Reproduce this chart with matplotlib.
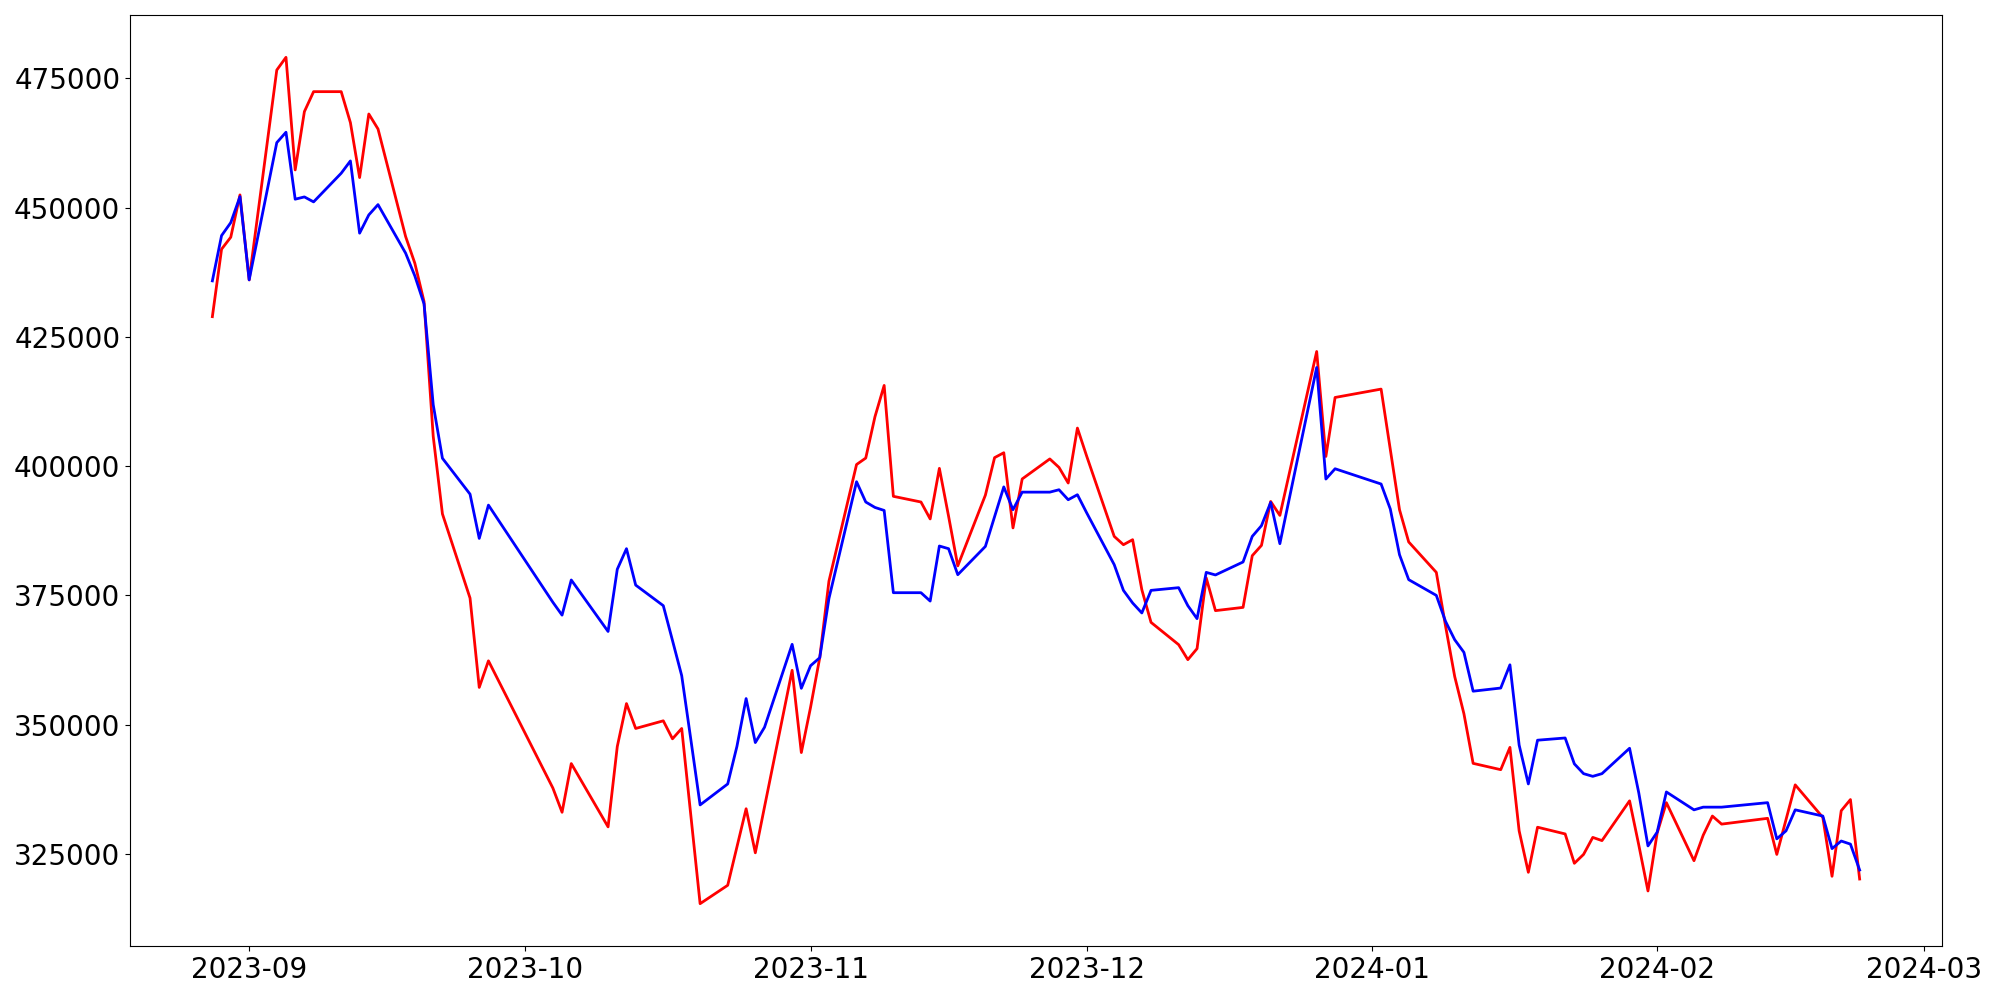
import matplotlib
matplotlib.use("Agg")
import matplotlib.pyplot as plt
import matplotlib.dates as mdates
from matplotlib.ticker import FuncFormatter
import pandas as pd

dates = [
    "2023-08-28", "2023-08-29", "2023-08-30", "2023-08-31", "2023-09-01",
    "2023-09-04", "2023-09-05", "2023-09-06", "2023-09-07", "2023-09-08",
    "2023-09-11", "2023-09-12", "2023-09-13", "2023-09-14", "2023-09-15",
    "2023-09-18", "2023-09-19", "2023-09-20", "2023-09-21", "2023-09-22",
    "2023-09-25", "2023-09-26", "2023-09-27",
    "2023-10-04", "2023-10-05", "2023-10-06",
    "2023-10-10", "2023-10-11", "2023-10-12", "2023-10-13",
    "2023-10-16", "2023-10-17", "2023-10-18", "2023-10-19", "2023-10-20",
    "2023-10-23", "2023-10-24", "2023-10-25", "2023-10-26", "2023-10-27",
    "2023-10-30", "2023-10-31", "2023-11-01", "2023-11-02", "2023-11-03",
    "2023-11-06", "2023-11-07", "2023-11-08", "2023-11-09", "2023-11-10",
    "2023-11-13", "2023-11-14", "2023-11-15", "2023-11-16", "2023-11-17",
    "2023-11-20", "2023-11-21", "2023-11-22", "2023-11-23", "2023-11-24",
    "2023-11-27", "2023-11-28", "2023-11-29", "2023-11-30", "2023-12-01",
    "2023-12-04", "2023-12-05", "2023-12-06", "2023-12-07", "2023-12-08",
    "2023-12-11", "2023-12-12", "2023-12-13", "2023-12-14", "2023-12-15",
    "2023-12-18", "2023-12-19", "2023-12-20", "2023-12-21", "2023-12-22",
    "2023-12-26", "2023-12-27", "2023-12-28",
    "2024-01-02", "2024-01-03", "2024-01-04", "2024-01-05",
    "2024-01-08", "2024-01-09", "2024-01-10", "2024-01-11", "2024-01-12",
    "2024-01-15", "2024-01-16", "2024-01-17", "2024-01-18", "2024-01-19",
    "2024-01-22", "2024-01-23", "2024-01-24", "2024-01-25", "2024-01-26",
    "2024-01-29", "2024-01-30", "2024-01-31", "2024-02-01", "2024-02-02",
    "2024-02-05", "2024-02-06", "2024-02-07", "2024-02-08",
    "2024-02-13", "2024-02-14", "2024-02-15", "2024-02-16",
    "2024-02-19", "2024-02-20", "2024-02-21", "2024-02-22", "2024-02-23",
]

actual = [
    428900, 441950, 444270, 452450, 436000,
    476600, 479060, 457280, 468560, 472420,
    472420, 466430, 455800, 468100, 465200,
    444400, 439240, 431830, 405730, 390750,
    374470, 357190, 362330,
    337730, 333040, 342460,
    330220, 345750, 354060, 349250,
    350730, 347250, 349250, 332310, 315360,
    318920, 326320, 333720, 325200, 334090,
    360500, 344590, 353320, 362930, 377740,
    400300, 401550, 409540, 415600, 394150,
    393050, 389780, 399560, 390300, 380700,
    394380, 401630, 402580, 388040, 397510,
    401380, 399740, 396720, 407350, 401960,
    386400, 384790, 385760, 376090, 369770,
    365460, 362560, 364690, 378360, 372040,
    372670, 382670, 384660, 393160, 390460,
    422160, 401860, 413270,
    414890, 403210, 391560, 385320,
    379440, 369080, 359280, 352090, 342500,
    341280, 345590, 329450, 321430, 330150,
    328850, 323170, 324890, 328180, 327560,
    335250, 326710, 317820, 329030, 334900,
    323670, 328600, 332310, 330750,
    331870, 324890, 331620, 338340,
    332040, 320660, 333340, 335500, 320130,
]

predicted = [
    435820, 444580, 447090, 452120, 436020,
    462560, 464570, 451620, 452060, 451100,
    456640, 459020, 445050, 448580, 450570,
    441180, 436790, 431380, 411860, 401510,
    394570, 386010, 392450,
    373660, 371170, 377970,
    368010, 380040, 384020, 376980,
    373000, 366260, 359470, 347020, 334460,
    338520, 345770, 355030, 346520, 349480,
    365520, 357020, 361380, 362930, 374390,
    396970, 393050, 392000, 391420, 375510,
    375510, 373890, 384540, 384020, 378990,
    384460, 390220, 395970, 391560, 394960,
    394960, 395420, 393490, 394460, 390980,
    380930, 375960, 373520, 371590, 375960,
    376480, 373000, 370490, 379440, 378940,
    381450, 386400, 388470, 392970, 384990,
    419070, 397490, 399480,
    396530, 391690, 382860, 378030,
    374990, 369970, 366410, 363970, 356460,
    357070, 361560, 346040, 338520, 346980,
    347410, 342400, 340510, 339990, 340510,
    345420, 336800, 326530, 329200, 336970,
    333510, 334030, 334030, 334030,
    334900, 327900, 329450, 333510,
    332310, 326010, 327480, 326880, 321870,
]

x = pd.to_datetime(dates)

fig = plt.figure(figsize=(20, 10), dpi=100)
ax = fig.add_axes([0.065, 0.054, 0.906, 0.931])
ax.plot(x, actual, color="red", linewidth=2)
ax.plot(x, predicted, color="blue", linewidth=2)

ax.xaxis.set_major_locator(mdates.MonthLocator())
ax.xaxis.set_major_formatter(mdates.DateFormatter("%Y-%m"))
ax.yaxis.set_major_formatter(FuncFormatter(lambda v, p: f"{int(round(v))}"))
ax.set_yticks([325000, 350000, 375000, 400000, 425000, 450000, 475000])
ax.tick_params(axis="both", labelsize=20)

fig.savefig("out.png", dpi=100)
